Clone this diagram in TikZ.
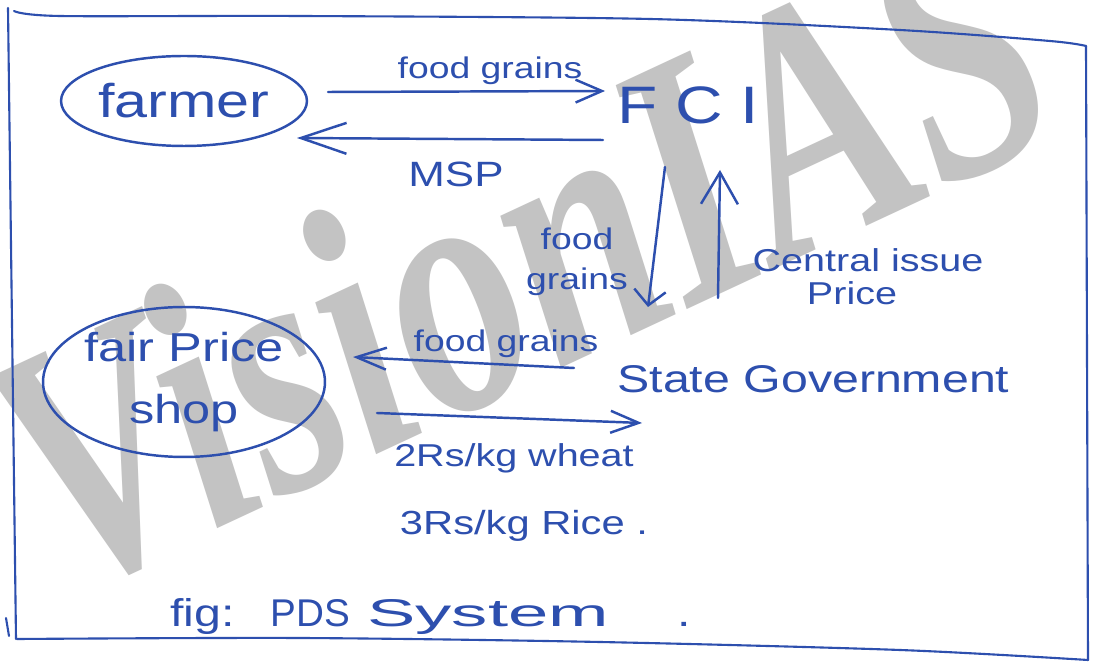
\documentclass[tikz,border=0pt]{standalone}
\usepackage{fontspec}
\setmainfont{Liberation Sans}
\newfontfamily\handfont[FakeStretch=1.25]{Liberation Sans}
\newfontfamily\wmfont{Liberation Serif}
\usetikzlibrary{arrows.meta,shapes.geometric}
\definecolor{ink}{HTML}{2D4FAE}
\definecolor{wmgray}{HTML}{C3C3C3}
\tikzset{
  pen/.style={draw=ink, line width=1.4pt, line cap=round, line join=round},
  hw/.style={text=ink, inner sep=0pt, font=\handfont\fontsize{#1}{#1}\selectfont},
  hd/.style 2 args={-{Straight Barb[length=#1,width=#2]}},
}
\begin{document}
\begin{tikzpicture}[x=0.02cm, y=-0.02cm]
  \fill[white] (0,0) rectangle (1100,668);
  \useasboundingbox (0,0) rectangle (1100,668);

  % watermark
  \node[text=wmgray, inner sep=0pt, anchor=base west, rotate=25, yscale=1.35,
        font=\wmfont\bfseries\itshape\fontsize{150}{150}\selectfont] (brand) at (65,600) {VisionIAS};

  % frame
  \draw[pen, line width=1.2pt] plot[smooth] coordinates {(14,11) (60,16) (300,16) (650,19) (900,30) (1050,41) (1086,46)};
  \draw[pen, line width=1.2pt] (1086,46) -- (1088,660);
  \draw[pen, line width=1.2pt] plot[smooth] coordinates {(17,639) (300,638) (600,642) (900,650) (1088,660)};
  \draw[pen, line width=1.2pt] (8,8) -- (16,639);
  \draw[pen, line width=1.2pt] (6,618) -- (9,636);

  % actors
  \node[pen, ellipse, minimum width=4.92cm, minimum height=1.8cm, hw=27] (farmer) at (184,101) {farmer};
  \node[hw=30, anchor=base] (fci) at (688,124) {F\kern 10pt C\kern 10pt I};
  \node[pen, ellipse, minimum width=5.64cm, minimum height=3.0cm, text=ink, inner sep=0pt,
        align=center, font=\handfont\fontsize{23}{35}\selectfont] (fps) at (184,382) {fair Price\\shop};
  \node[hw=22, anchor=base west] (state) at (617,393) {State Government};

  % farmer <-> FCI
  \coordinate (f1) at (328,92);  \coordinate (f2) at (605,91);
  \draw[pen, hd={15pt}{13pt}] (f1) -- (f2);
  \node[hw=17, anchor=base] (lfg1) at (490,79) {food grains};
  \coordinate (m1) at (603,140); \coordinate (m2) at (297,138);
  \draw[pen, hd={26pt}{17.6pt}] (m1) -- (m2);
  \node[hw=20, anchor=base] (msp) at (456,187) {MSP};

  % FCI <-> State Government
  \coordinate (d1) at (665,167); \coordinate (d2) at (648,307);
  \draw[pen, hd={8.5pt}{18pt}] (d1) -- (d2);
  \node[text=ink, inner sep=0pt, align=center, font=\handfont\fontsize{17}{22.7}\selectfont] (lfg2) at (577,262) {food\\grains};
  \coordinate (u1) at (718,298); \coordinate (u2) at (720,170);
  \draw[pen, hd={18pt}{21pt}] (u1) -- (u2);
  \node[hw=18, anchor=base] (cip1) at (868,272) {Central issue};
  \node[hw=18, anchor=base] (cip2) at (852,305) {Price};

  % State Government <-> fair price shop
  \coordinate (s1) at (574,368); \coordinate (s2) at (353,357);
  \draw[pen, hd={17pt}{12.5pt}] (s1) -- (s2);
  \node[hw=17, anchor=base] (lfg3) at (506,352) {food grains};
  \coordinate (r1) at (377,413); \coordinate (r2) at (642,423);
  \draw[pen, hd={16pt}{12.5pt}] (r1) -- (r2);
  \node[hw=18, anchor=base] (rate1) at (514,467) {2Rs/kg wheat};
  \node[hw=19, anchor=base] (rate2) at (524,535) {3Rs/kg Rice .};

  % caption
  \node[hw=22, anchor=base west] (caption) at (170,627)
    {\makebox[2.0cm][l]{fig:}\makebox[1.94cm][l]{\scalebox{0.8}[1]{PDS}}\makebox[6.2cm][l]{\scalebox{1.5}[1]{System}}.};
\end{tikzpicture}
\end{document}
